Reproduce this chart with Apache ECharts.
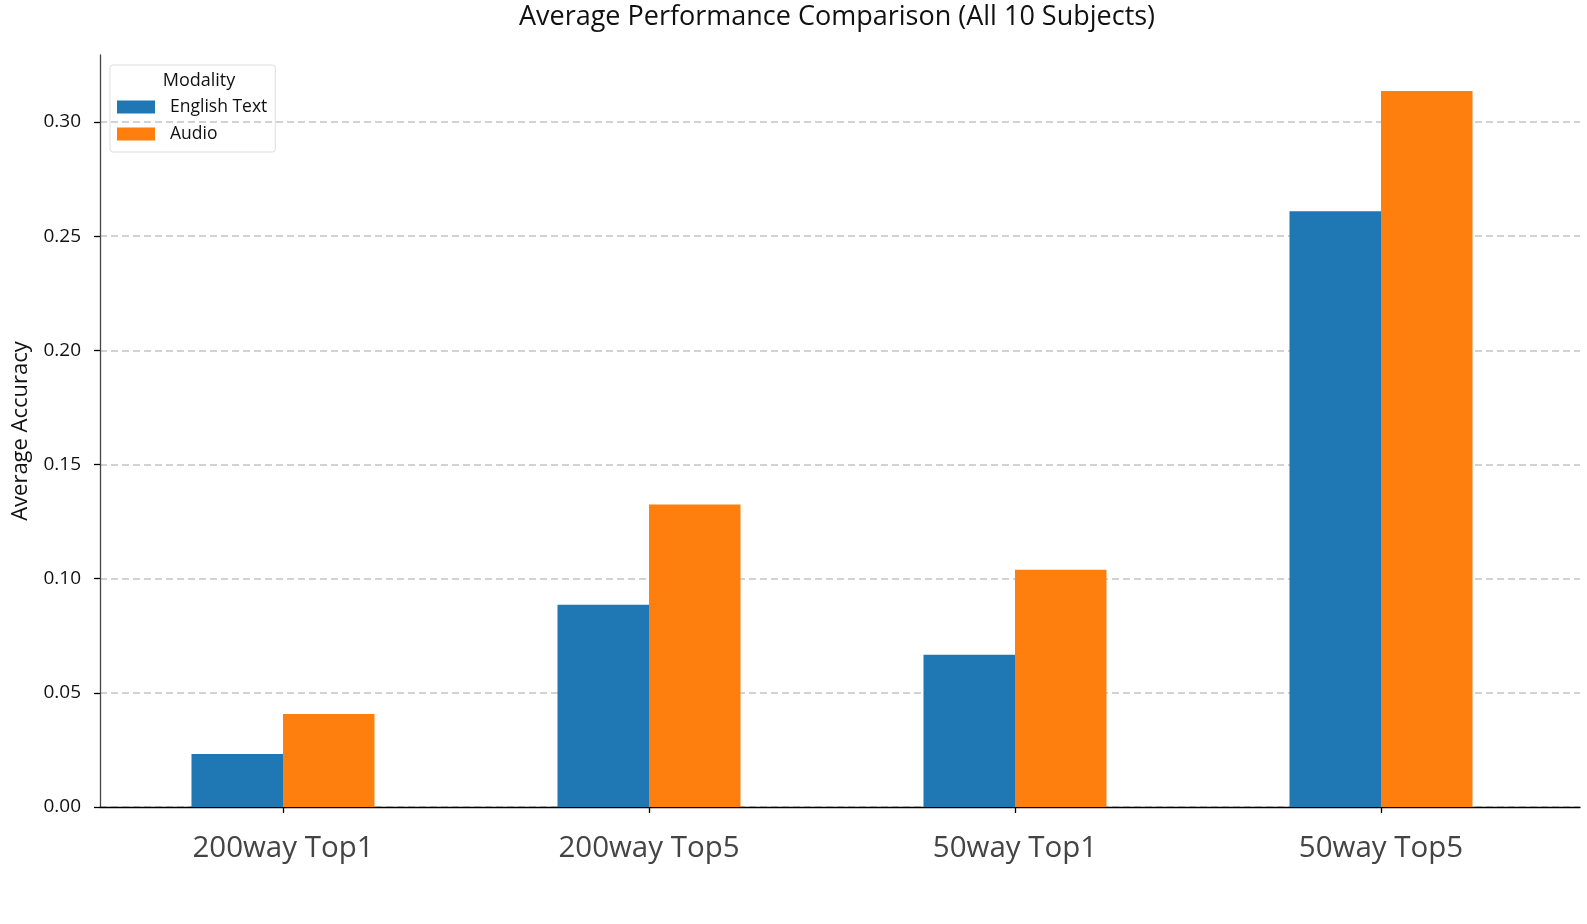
<!DOCTYPE html>
<html><head><meta charset="utf-8">
<script src="https://cdn.jsdelivr.net/npm/echarts@6/dist/echarts.min.js"></script>
<style>html,body{margin:0;padding:0;background:#fff}#c{width:1587px;height:924px}</style>
</head><body><div id="c"></div>
<script>
const categories = ['200way Top1', '200way Top5', '50way Top1', '50way Top5'];
const englishText = [0.0232, 0.0885, 0.0666, 0.2606];
const audio = [0.0407, 0.1323, 0.1038, 0.3132];
const seriesNames = ['English Text', 'Audio'];
const yTicks = [0, 0.05, 0.10, 0.15, 0.20, 0.25, 0.30];

const FONT = '"Open Sans", Roboto, sans-serif';
const chart = echarts.init(document.getElementById('c'));
chart.setOption({
  animation: false,
  color: ['#1f77b4', '#ff7f0e'],
  title: [
    { text: 'Average Performance Comparison (All 10 Subjects)', left: 832, textAlign: 'center', top: -1,
      textStyle: { fontFamily: FONT, fontSize: 27, fontWeight: 'normal', color: '#111' } },
    { text: 'Modality', left: 194, textAlign: 'center', top: 67,
      textStyle: { fontFamily: FONT, fontSize: 18, fontWeight: 'normal', color: '#111' } }
  ],
  legend: {
    data: seriesNames, orient: 'vertical', left: 110, top: 65,
    padding: [33, 8, 9, 7], itemGap: 9, itemWidth: 38, itemHeight: 13,
    borderColor: '#ddd', borderWidth: 1, borderRadius: 3,
    icon: 'rect',
    textStyle: { fontFamily: FONT, fontSize: 17.5, color: '#111', lineHeight: 18, padding: [0, 0, 0, 10] }
  },
  grid: [
    { left: 100, right: 7, top: 122, bottom: 117, outerBoundsMode: 'none', containLabel: false },
    { left: 100, right: 23, top: 55, bottom: 117, outerBoundsMode: 'none', containLabel: false }
  ],
  xAxis: [
    { type: 'value', gridIndex: 0, min: 0, max: 1, show: true,
      axisLine: { show: true, lineStyle: { color: '#000', width: 1.3 } },
      axisTick: { show: false }, axisLabel: { show: false }, splitLine: { show: false } },
    { type: 'category', gridIndex: 1, data: categories,
      axisLine: { show: false },
      axisTick: { show: true, alignWithLabel: true, length: 6, lineStyle: { color: '#000', width: 1.3 } },
      axisLabel: { fontFamily: FONT, fontSize: 29.5, color: '#444', margin: 27 } }
  ],
  yAxis: [
    { type: 'value', gridIndex: 0, min: 0, max: 0.30, interval: 0.05,
      axisLine: { show: false },
      axisTick: { show: true, length: 6, lineStyle: { color: '#000', width: 1.3 } },
      axisLabel: { fontFamily: FONT, fontSize: 19, color: '#111', margin: 19,
        formatter: v => v.toFixed(2) },
      splitLine: { show: true, lineStyle: { color: '#c4c4c4', width: 1.5, type: [7, 4] } } },
    { type: 'value', gridIndex: 1, min: 0, max: 0.329, interval: 0.05,
      name: 'Average Accuracy', nameLocation: 'middle', nameGap: 68,
      nameTextStyle: { fontFamily: FONT, fontSize: 22, color: '#111' },
      axisLine: { show: true, lineStyle: { color: '#444', width: 1.3 } },
      axisTick: { show: false }, axisLabel: { show: false }, splitLine: { show: false } }
  ],
  series: [
    { name: seriesNames[0], type: 'bar', xAxisIndex: 1, yAxisIndex: 1, data: englishText,
      barWidth: '25%', barGap: '0%' },
    { name: seriesNames[1], type: 'bar', xAxisIndex: 1, yAxisIndex: 1, data: audio,
      barWidth: '25%', barGap: '0%' }
  ]
});
</script></body></html>
